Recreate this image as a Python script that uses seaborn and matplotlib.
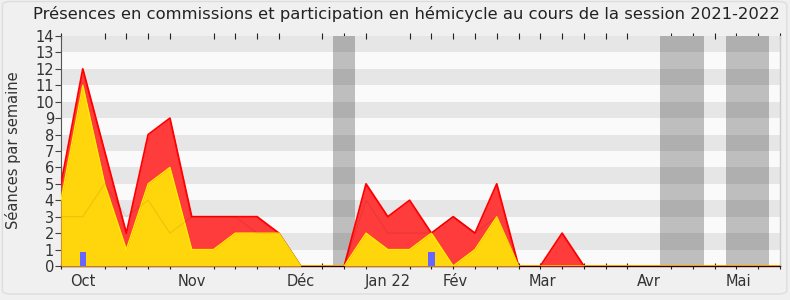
import matplotlib
matplotlib.use('Agg')
import matplotlib.pyplot as plt
import seaborn as sns
from matplotlib.patches import FancyBboxPatch

# ---- data (weekly, session 2021-2022) ----
weeks = list(range(34))
presence_total = [5, 12, 7, 2, 8, 9, 3, 3, 3, 3, 2, 0, 0, 0, 5, 3, 4, 2, 3, 2, 5,
                  0, 0, 2, 0, 0, 0, 0, 0, 0, 0, 0, 0, 0]
hemicycle = [4, 11, 5, 1, 5, 6, 1, 1, 2, 2, 2, 0, 0, 0, 2, 1, 1, 2, 0, 1, 3,
             0, 0, 0, 0, 0, 0, 0, 0, 0, 0, 0, 0, 0]
mediane = [3, 3, 5, 3, 4, 2, 3, 3, 3, 2, 2, 0, 0, 0, 4, 2, 2, 2, 3, 2, 3,
           0, 0, 0, 0, 0, 0, 0, 0, 0, 0, 0, 0, 0]
question_weeks = [1, 17]
question_values = [0.87, 0.87]
vacances = [(12.5, 13.5), (27.5, 29.5), (30.5, 32.5)]
month_labels = ['Oct', 'Nov', 'Déc', 'Jan 22', 'Fév', 'Mar', 'Avr', 'Mai']
month_pos = [1, 6, 11, 15, 18.1, 22.1, 27, 31.1]
title = "Présences en commissions et participation en hémicycle au cours de la session 2021-2022"

sns.set_theme(style='white')
plt.rcParams['font.family'] = ['DejaVu Sans']

fig = plt.figure(figsize=(7.9, 3.0), dpi=100, facecolor='#f0f0f0')
ax = fig.add_axes([61 / 790, 34 / 300, 719 / 790, 230 / 300])
ax.set_facecolor('#fafafa')
ax.set_xlim(0, 33)
ax.set_ylim(0, 14)

for a, b in vacances:
    ax.axvspan(a, b, color='#bebebe', lw=0, zorder=1)
for k in range(1, 14, 2):
    ax.axhspan(k, k + 1, color='black', alpha=0.08, lw=0, zorder=2)

ax.fill_between(weeks, presence_total, color='#ff3c3c', lw=0, zorder=3)
sns.lineplot(x=weeks, y=presence_total, color='#ff0000', lw=1.3, ax=ax, zorder=4)
ax.fill_between(weeks, hemicycle, color='#ffd60c', lw=0, zorder=5)
sns.lineplot(x=weeks, y=hemicycle, color='#ffee00', lw=1.0, ax=ax, zorder=6)
sns.lineplot(x=weeks, y=mediane, color='black', alpha=0.07, lw=1.0, ax=ax, zorder=7)
ax.bar(question_weeks, question_values, width=0.3, color='#6666ff', lw=0, zorder=8)

ax.set_xlabel('')
ax.set_ylabel('')
ax.set_yticks(range(15))
ax.set_yticklabels([str(i) for i in range(15)])
ax.set_xticks(month_pos)
ax.set_xticklabels(month_labels)
ax.set_xticks(weeks, minor=True)
ax.tick_params(axis='y', which='major', left=True, length=4, width=0.8, color='#444444',
               labelsize=10.5, labelcolor='#333333', pad=1)
ax.tick_params(axis='x', which='major', bottom=True, length=0, labelsize=10.5,
               labelcolor='#333333', pad=6)
ax.tick_params(axis='x', which='minor', bottom=True, top=True, direction='inout',
               length=5, width=0.8, color='#222222')

ax.spines['top'].set_visible(False)
ax.spines['left'].set_color('#555555')
ax.spines['left'].set_linewidth(0.8)
ax.spines['bottom'].set_color('#330000')
ax.spines['bottom'].set_linewidth(1.0)
ax.spines['right'].set_color('#cccccc')
ax.spines['right'].set_linewidth(1.0)

fig.text(0.514, 0.953, title, ha='center', va='center', fontsize=11.8, color='#222222')
fig.text(13 / 790, 0.5, 'Séances par semaine', rotation=90, ha='center', va='center',
         fontsize=10.5, color='#333333')

fig.patches.append(FancyBboxPatch((0.003, 0.02), 0.993, 0.975,
                                  boxstyle='round,pad=0,rounding_size=0.012',
                                  transform=fig.transFigure, fc='none', ec='#dddddd', lw=1))

fig.savefig('out.png', dpi=100, facecolor=fig.get_facecolor())
